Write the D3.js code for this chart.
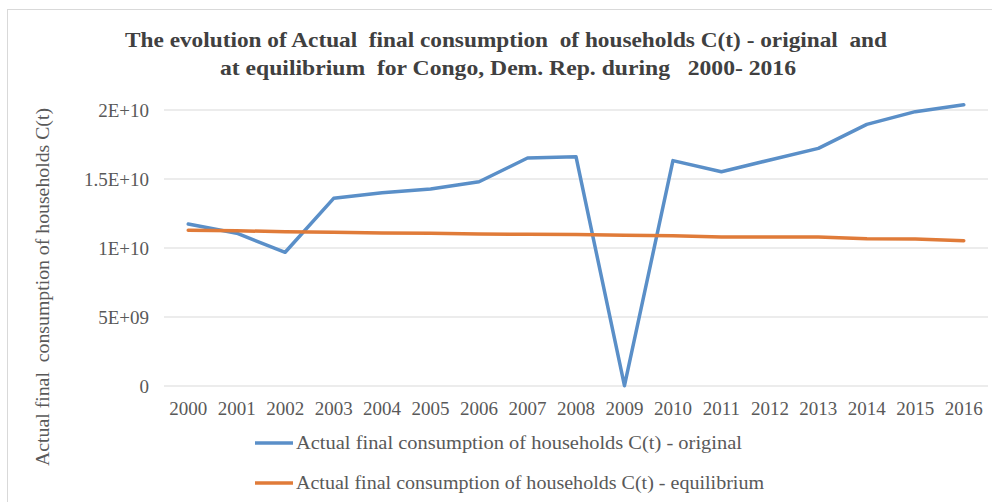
<!DOCTYPE html>
<html><head><meta charset="utf-8">
<script src="https://cdn.jsdelivr.net/npm/d3@7"></script>
<style>body{margin:0;background:#fff;} svg{display:block;}</style>
</head><body>
<svg id="c" width="992" height="502"></svg>
<script>
const years = ["2000","2001","2002","2003","2004","2005","2006","2007","2008","2009","2010","2011","2012","2013","2014","2015","2016"];
const original = [11.74e9,11.07e9,9.69e9,13.6e9,14.0e9,14.28e9,14.8e9,16.52e9,16.62e9,0.02e9,16.33e9,15.53e9,16.38e9,17.22e9,18.96e9,19.88e9,20.38e9];
const equilibrium = [11.28e9,11.25e9,11.18e9,11.14e9,11.09e9,11.06e9,11.01e9,10.99e9,10.98e9,10.92e9,10.89e9,10.8e9,10.8e9,10.79e9,10.67e9,10.65e9,10.53e9];
const yTicks = [0,5e9,1e10,1.5e10,2e10];
const yTickLabels = ["0","5E+09","1E+10","1.5E+10","2E+10"];
const seriesNames = ["Actual final consumption of households C(t) - original","Actual final consumption of households C(t) - equilibrium"];
const titleLines = ["The evolution of Actual  final consumption  of households C(t) - original  and","at equilibrium  for Congo, Dem. Rep. during   2000- 2016"];
const yTitle = "Actual final  consumption of households C(t)";

const svg = d3.select("#c");
const textColor = "#595959";
const FF = '"Liberation Serif", "Times New Roman", serif';
const colors = ["#5a8fc8","#e07b39"];

svg.append("rect").attr("x",7.5).attr("y",9.5).attr("width",1000).attr("height",520)
  .attr("fill","#fff").attr("stroke","#d9d9d9");

const x = d3.scaleBand().domain(years).range([164,988]);
const y = d3.scaleLinear().domain([0,2e10]).range([386,110]);

svg.append("g").selectAll("line").data(yTicks).join("line")
  .attr("x1",164).attr("x2",988).attr("y1",d=>y(d)).attr("y2",d=>y(d))
  .attr("stroke","#d9d9d9").attr("stroke-width",1);

const yAxis = svg.append("g").attr("transform","translate(149,0)")
  .call(d3.axisLeft(y).tickValues(yTicks).tickFormat((d,i)=>yTickLabels[i]).tickSize(0).tickPadding(0))
  .attr("font-family",FF);
yAxis.select(".domain").remove();
yAxis.selectAll("text").style("font-family",FF).style("font-size","19px").attr("fill",textColor).attr("dy","0.32em");

const xAxis = svg.append("g").attr("transform","translate(0,401)")
  .call(d3.axisBottom(x).tickSize(0).tickPadding(0))
  .attr("font-family",FF);
xAxis.select(".domain").remove();
xAxis.selectAll("text").style("font-family",FF).style("font-size","19px").attr("fill",textColor).attr("dy","0.71em");

const line = d3.line().x((d,i)=>x(years[i])+x.bandwidth()/2).y(d=>y(d));
[original,equilibrium].forEach((s,k)=>{
  svg.append("path").datum(s).attr("d",line).attr("fill","none")
    .attr("stroke",colors[k]).attr("stroke-width",3.5).attr("stroke-linejoin","round").attr("stroke-linecap","round");
});

const tW = [762,576], tX=[506,508], tY=[47,75];
titleLines.forEach((t,i)=>{
  svg.append("text").attr("x",tX[i]).attr("y",tY[i]).attr("text-anchor","middle")
    .style("font-family",FF).style("font-weight","bold").style("font-size","22px").attr("fill","#404040")
    .attr("textLength",tW[i]).attr("lengthAdjust","spacingAndGlyphs").style("white-space","pre").text(t);
});

svg.append("text").attr("transform","translate(49,287) rotate(-90)").attr("text-anchor","middle")
  .style("font-family",FF).style("font-size","18px").attr("fill",textColor)
  .attr("textLength",358).attr("lengthAdjust","spacingAndGlyphs").style("white-space","pre").text(yTitle);

const legY = [443,483], legW=[446,468];
seriesNames.forEach((n,i)=>{
  svg.append("line").attr("x1",255).attr("x2",293).attr("y1",legY[i]).attr("y2",legY[i])
    .attr("stroke",colors[i]).attr("stroke-width",3.5);
  svg.append("text").attr("x",296).attr("y",legY[i]).attr("dy","0.35em")
    .style("font-family",FF).style("font-size","18px").attr("fill",textColor)
    .attr("textLength",legW[i]).attr("lengthAdjust","spacingAndGlyphs").text(n);
});
</script>
</body></html>
